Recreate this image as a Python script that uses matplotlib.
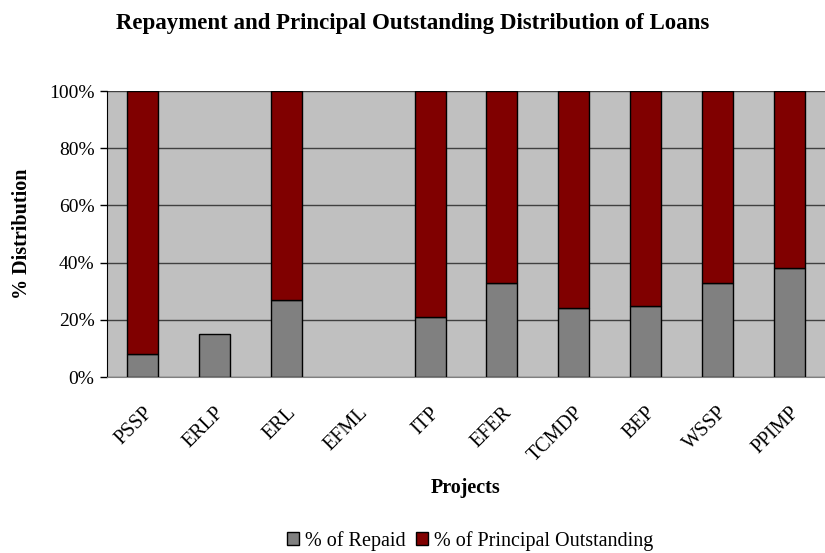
import matplotlib
matplotlib.use("Agg")
import matplotlib.pyplot as plt
import numpy as np
from matplotlib.ticker import FuncFormatter

projects = ["PSSP", "ERLP", "ERL", "EFML", "ITP", "EFER", "TCMDP", "BEP", "WSSP", "PPIMP"]
repaid = [8, 15, 27, 0, 21, 33, 24, 25, 33, 38]
outstanding = [92, 0, 73, 0, 79, 67, 76, 75, 67, 62]

plt.rcParams['font.family'] = ['Liberation Serif', 'DejaVu Serif']

fig = plt.figure(figsize=(8.25, 5.53), dpi=100)
ax = fig.add_axes([107/825, 1-377/553, 1-107/825, (377-91)/553])
ax.set_facecolor('#C0C0C0')

x = np.arange(len(projects))
w = 0.43
lw_rep = [1 if v > 0 else 0 for v in repaid]
lw_out = [1 if v > 0 else 0 for v in outstanding]
ax.bar(x, repaid, w, color='#808080', edgecolor='black', linewidth=lw_rep, label='% of Repaid', zorder=3)
ax.bar(x, outstanding, w, bottom=repaid, color='#800000', edgecolor='black', linewidth=lw_out,
       label='% of Principal Outstanding', zorder=3)

ax.set_xlim(-0.5, len(projects)-0.5)
ax.set_ylim(0, 100)
ax.set_yticks(np.arange(0, 101, 20))
ax.yaxis.set_major_formatter(FuncFormatter(lambda v, p: f"{int(v)}%"))
ax.grid(axis='y', color='#404040', linewidth=1, zorder=1)
ax.tick_params(axis='y', labelsize=14, length=5, direction='out', width=1, pad=4)
ax.tick_params(axis='x', length=0, labelsize=14.5, pad=19)
ax.set_xticks(x)
ax.set_xticklabels(projects, rotation=45, ha='right', rotation_mode='anchor')

for s in ['top', 'right']:
    ax.spines[s].set_visible(False)
ax.spines['left'].set_color('black')
ax.spines['bottom'].set_color('#808080')

ax.set_ylabel('% Distribution', fontsize=14.5, fontweight='bold', va='center')
ax.yaxis.set_label_coords(-(107-22)/718, 0.5)
ax.set_xlabel('Projects', fontsize=14.5, fontweight='bold', va='center')
ax.xaxis.set_label_coords(0.5, -(488-377)/286)

fig.text(0.5, 1-24/553, 'Repayment and Principal Outstanding Distribution of Loans',
         ha='center', va='center', fontsize=16.5, fontweight='bold')

leg = fig.legend(loc='center', bbox_to_anchor=(470/825, 1-541/553), ncol=2, frameon=False,
                 fontsize=14.5, handlelength=0.6, handleheight=0.6, handletextpad=0.3, columnspacing=0.5,
                 borderpad=0.1)
for h in leg.legend_handles:
    h.set_linewidth(1)

fig.savefig('out.png', dpi=100)
